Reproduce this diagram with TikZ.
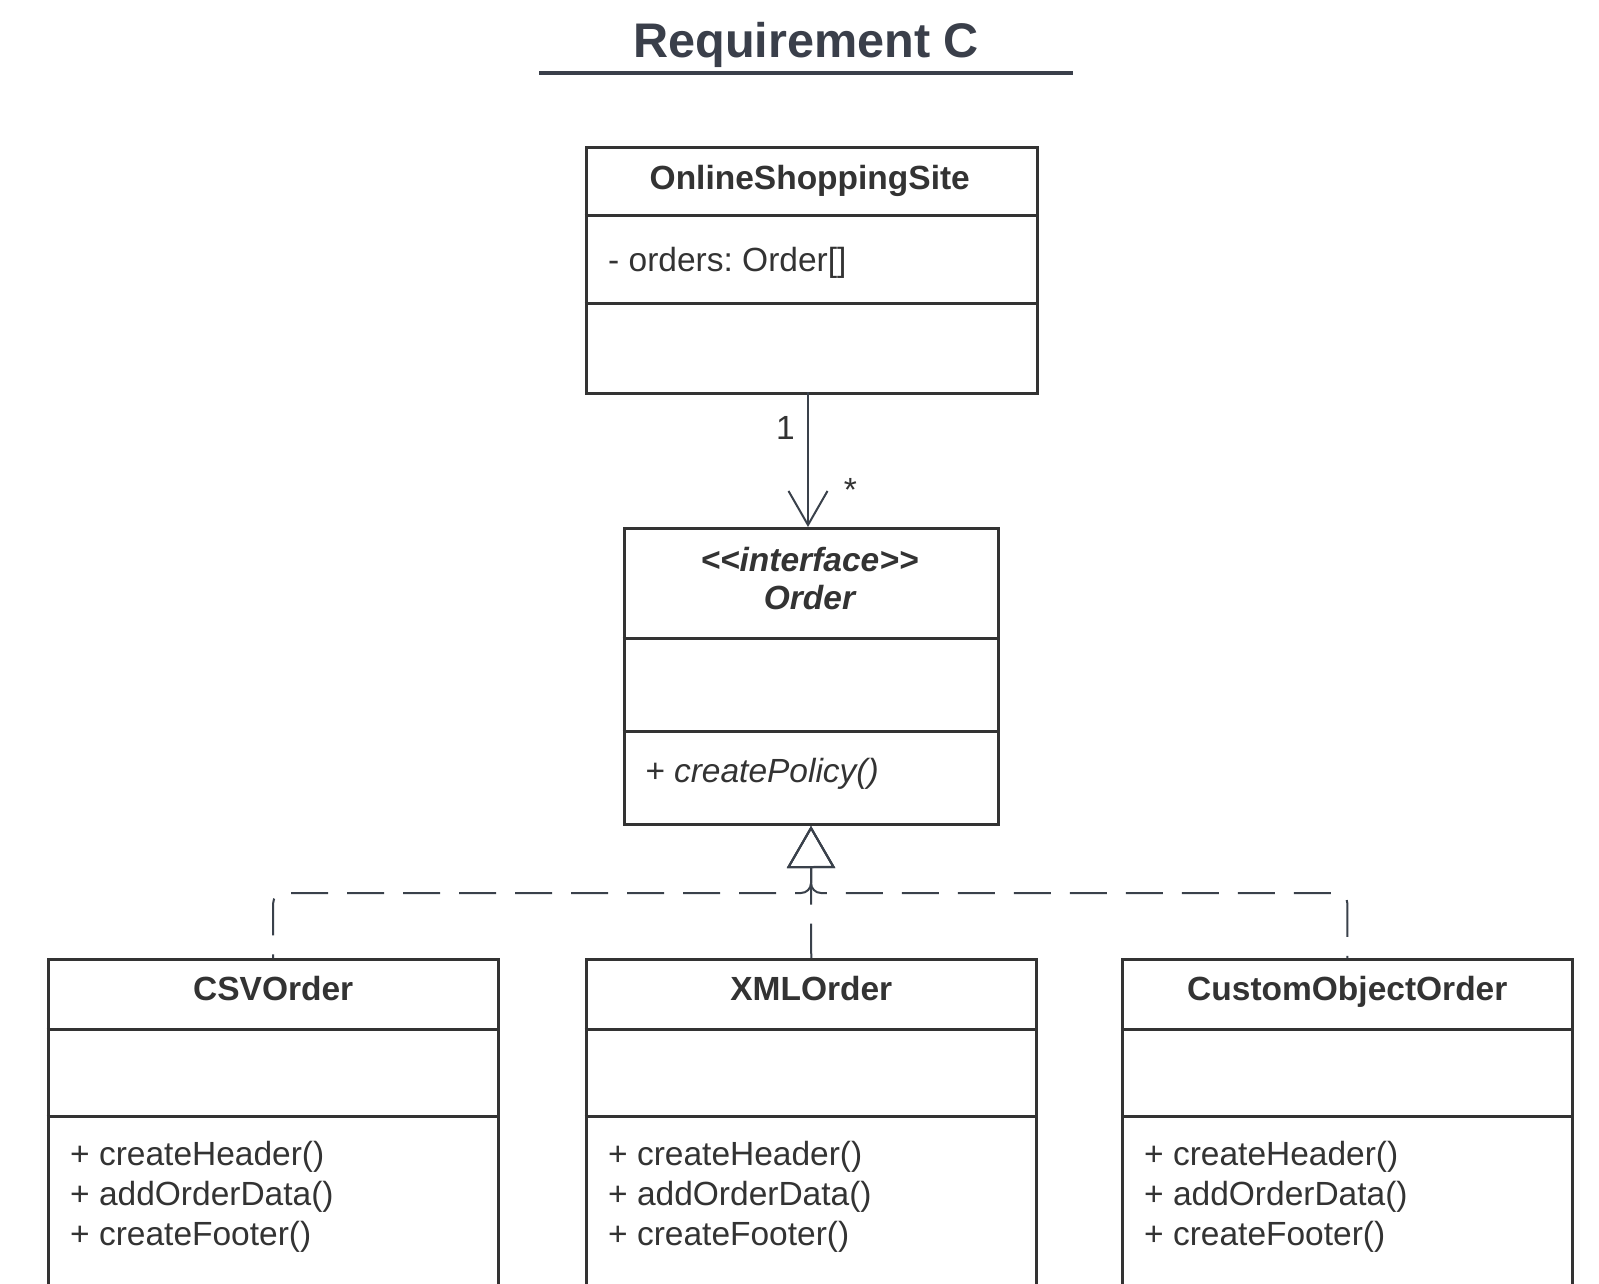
\documentclass[tikz,border=0pt]{standalone}
\usepackage{fontspec}
\setmainfont{Liberation Sans}
\usetikzlibrary{arrows.meta}
\definecolor{boxc}{HTML}{333333}
\definecolor{linec}{HTML}{3A414B}
\definecolor{titlec}{HTML}{3A3F4A}
\newcommand{\bodyfont}{\fontsize{33.5}{40}\selectfont}
\frenchspacing
\begin{document}
\begin{tikzpicture}[x=1pt,y=-1pt,
  cls/.style={draw=boxc, line width=3pt, fill=white, inner sep=0pt, anchor=north west},
  txt/.style={text=boxc, inner sep=0pt},
  clsname/.style={txt, font=\bodyfont\bfseries, anchor=base},
  member/.style={txt, font=\bodyfont, anchor=base west},
  divider/.style={draw=boxc, line width=3pt},
  conn/.style={draw=linec, line width=2pt},
  realize/.style={conn, dash pattern=on 37pt off 19pt, rounded corners=10pt,
    {Triangle[open, length=42pt, width=48pt]}-},
  assoc/.style={conn, -{Straight Barb[length=34pt, width=39pt]}},
  mult/.style={txt, font=\bodyfont}]
\clip (0,0) rectangle (1599,1284);
\fill[white] (0,0) rectangle (1599,1284);

% title
\node[text=titlec, font=\fontsize{48.6}{52}\selectfont\bfseries, anchor=base, inner sep=0pt]
  (title) at (806.3,58) {Requirement C};
\draw[draw=titlec, line width=3.5pt] (539,72.8) -- (1073,72.8);

% OnlineShoppingSite
\node[cls, minimum width=451pt, minimum height=246pt] (oss) at (584.5,146) {};
\draw[divider] (oss.west |- 0,216) -- (oss.east |- 0,216);
\draw[divider] (oss.west |- 0,303) -- (oss.east |- 0,303);
\node[clsname] (ossn) at (809.75,190) {OnlineShoppingSite};
\node[member] (ossa) at (608,271.7) {- orders: Order[]};

% Order interface
\node[cls, minimum width=374pt, minimum height=296pt] (order) at (622.5,527) {};
\draw[divider] (order.west |- 0,638) -- (order.east |- 0,638);
\draw[divider] (order.west |- 0,731) -- (order.east |- 0,731);
\node[clsname, font=\bodyfont\bfseries\itshape] (ordst) at (809.5,571.7) {<{}<interface>{}>};
\node[clsname, font=\bodyfont\bfseries\itshape] (ordn) at (809.5,609) {Order};
\node[member, font=\bodyfont\itshape] (ordm) at (645,782.7) {+ createPolicy()};

% CSVOrder
\node[cls, minimum width=450pt, minimum height=360pt] (csv) at (46.7,958) {};
\draw[divider] (csv.west |- 0,1029) -- (csv.east |- 0,1029);
\draw[divider] (csv.west |- 0,1116) -- (csv.east |- 0,1116);
\node[clsname] (csvn) at (csv.north |- 0,1000) {CSVOrder};
\node[member] (csvm1) at (70,1165.5) {+ createHeader()};
\node[member] (csvm2) at (70,1205.5) {+ addOrderData()};
\node[member] (csvm3) at (70,1245.5) {+ createFooter()};

% XMLOrder
\node[cls, minimum width=450.5pt, minimum height=360pt] (xml) at (584.5,958) {};
\draw[divider] (xml.west |- 0,1029) -- (xml.east |- 0,1029);
\draw[divider] (xml.west |- 0,1116) -- (xml.east |- 0,1116);
\node[clsname] (xmln) at (xml.north |- 0,1000) {XMLOrder};
\node[member] (xmlm1) at (608,1165.5) {+ createHeader()};
\node[member] (xmlm2) at (608,1205.5) {+ addOrderData()};
\node[member] (xmlm3) at (608,1245.5) {+ createFooter()};

% CustomObjectOrder
\node[cls, minimum width=450pt, minimum height=360pt] (cust) at (1120.8,958) {};
\draw[divider] (cust.west |- 0,1029) -- (cust.east |- 0,1029);
\draw[divider] (cust.west |- 0,1116) -- (cust.east |- 0,1116);
\node[clsname] (custn) at (cust.north |- 0,1000) {CustomObjectOrder};
\node[member] (custm1) at (1144,1165.5) {+ createHeader()};
\node[member] (custm2) at (1144,1205.5) {+ addOrderData()};
\node[member] (custm3) at (1144,1245.5) {+ createFooter()};

% association
\draw[assoc] (808,392) coordinate (assocstart) -- (assocstart |- order.north);
\node[mult] (m1) at (785.5,427.7) {1};
\node[mult] (m2) at (850.5,490) {*};

% realizations
\draw[realize] (order.south) -- (xml.north);
\draw[realize] (order.south) -- ++(0,67) -| (csv.north);
\draw[realize] (order.south) -- ++(0,67) -| (cust.north);
\end{tikzpicture}
\end{document}
